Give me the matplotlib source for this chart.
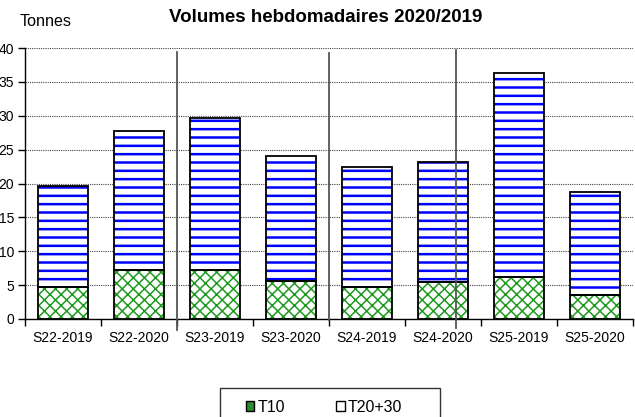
import matplotlib.pyplot as plt
import numpy as np
from matplotlib.patches import Patch, Rectangle

plt.rcParams["font.family"] = ["Liberation Sans", "DejaVu Sans"]

# data (tonnes)
weeks = ["S22-2019", "S22-2020", "S23-2019", "S23-2020",
         "S24-2019", "S24-2020", "S25-2019", "S25-2020"]
t10 = [4.7, 7.2, 7.3, 5.6, 4.7, 5.5, 6.2, 3.5]
t20_30 = [14.9, 20.6, 22.3, 18.4, 17.8, 17.7, 30.1, 15.3]
yticks = [0, 5, 10, 15, 20, 25, 30, 35, 40]

# stray separator lines drawn over the chart
sep_x = [1.5, 3.5, 5.17]
sep_top = [39.4, 39.3, 39.7]
sep_bottom = [-1.6, -0.15, -1.3]

W, H = 635, 417
fig = plt.figure(figsize=(W / 100, H / 100), dpi=100)
ax = fig.add_axes([25 / W, 1 - 319 / H, 608 / W, 271 / H])

x = np.arange(len(weeks))
width = 0.66

# hatched fills (hatch colour comes from edgecolor), then black outlines on top
fill10 = ax.bar(x, t10, width, color="white", edgecolor="#1f9a1f",
                hatch="xxx", lw=0, zorder=2)
fill20 = ax.bar(x, t20_30, width, bottom=t10, color="white",
                edgecolor="#0000ff", hatch="--", lw=0, zorder=2)
for p in fill10:
    if hasattr(p, "set_hatch_linewidth"):
        p.set_hatch_linewidth(1.1)
for p in fill20:
    if hasattr(p, "set_hatch_linewidth"):
        p.set_hatch_linewidth(1.8)
ax.bar(x, t10, width, fill=False, edgecolor="black", lw=1.3, zorder=3)
ax.bar(x, t20_30, width, bottom=t10, fill=False, edgecolor="black", lw=1.3, zorder=3)

for sx, top, bot in zip(sep_x, sep_top, sep_bottom):
    ax.plot([sx, sx], [bot, top], color="#555555", lw=1.3, clip_on=False, zorder=4)

ax.set_xlim(-0.5, len(weeks) - 0.5)
ax.set_ylim(0, 40)
ax.set_yticks(yticks)
ax.set_xticks(x)
ax.set_xticklabels(weeks)
ax.set_xticks(np.arange(-0.5, len(weeks), 1), minor=True)
ax.tick_params(axis="x", which="major", length=0, pad=9, labelsize=10)
ax.tick_params(axis="x", which="minor", length=5, width=1, direction="out")
ax.tick_params(axis="y", length=5, width=1, pad=3, labelsize=10)

ax.yaxis.grid(True, linestyle=(0, (1, 1)), color="#444444", lw=0.8)
ax.set_axisbelow(True)
ax.spines[["top", "right"]].set_visible(False)
for s in ["left", "bottom"]:
    ax.spines[s].set_color("black")
    ax.spines[s].set_linewidth(1.0)

fig.text(326 / W, 1 - 18 / H, "Volumes hebdomadaires 2020/2019",
         ha="center", va="center", fontsize=13.5, fontweight="bold")
fig.text(20 / W, 1 - 21 / H, "Tonnes", ha="left", va="center", fontsize=11.6)

handles = [Patch(facecolor="#2e8b2e", edgecolor="black", label="T10"),
           Patch(facecolor="white", edgecolor="black", label="T20+30")]
fig.legend(handles=handles, loc="center", bbox_to_anchor=(324 / W, 1 - 407 / H),
           ncol=2, frameon=False, fontsize=11.5, handlelength=0.55,
           handleheight=0.55, handletextpad=0.2, columnspacing=3.2)
fig.add_artist(Rectangle((220 / W, -0.05), 220 / W, 0.05 + 29 / H,
                         transform=fig.transFigure, fill=False,
                         edgecolor="#333333", lw=1))

fig.savefig("out.png", dpi=100)
